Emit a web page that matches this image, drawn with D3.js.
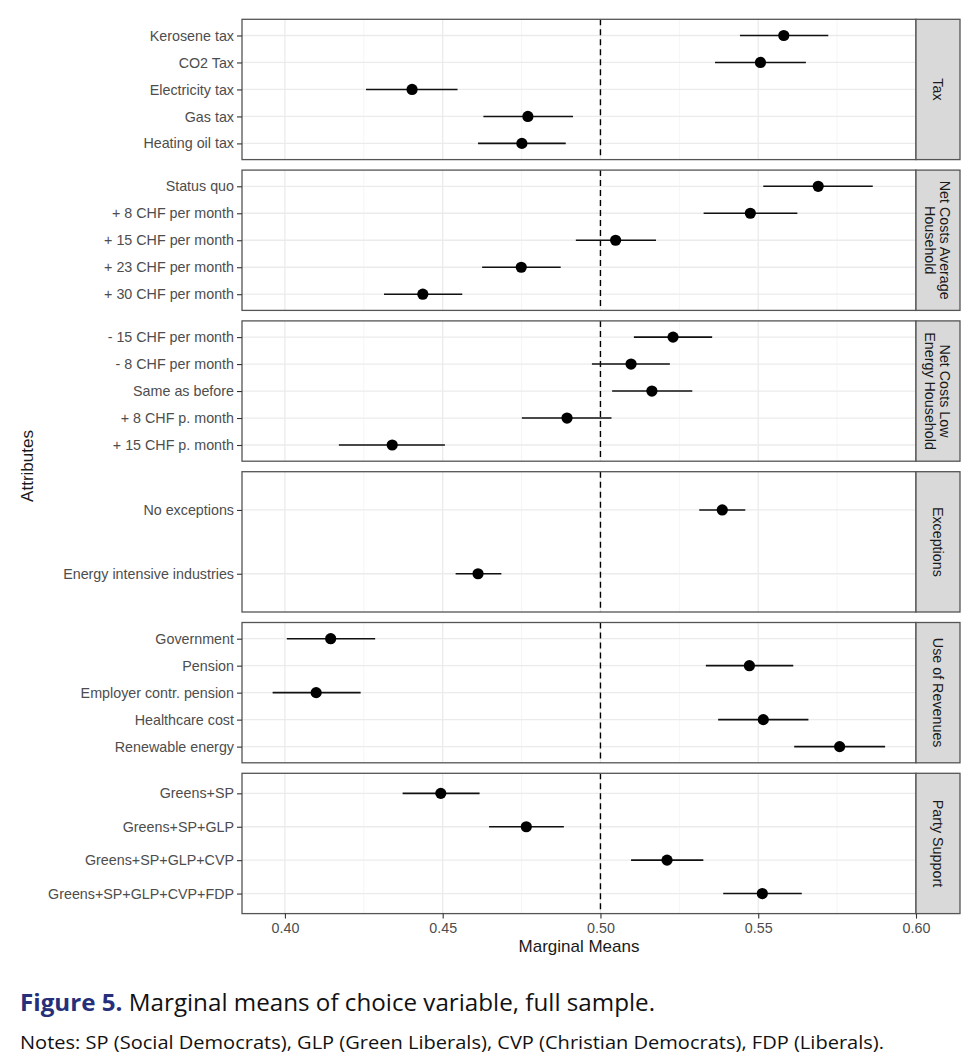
<!DOCTYPE html>
<html>
<head>
<meta charset="utf-8">
<script src="https://cdn.jsdelivr.net/npm/d3@7"></script>
<style>
  body { margin: 0; background: #fff; }
  svg { display: block; }
</style>
</head>
<body>
<div class="chart"></div>
<script>
// facets (attributes) and their levels
var facets = ["Tax", "Net Costs Average\nHousehold", "Net Costs Low\nEnergy Household", "Exceptions", "Use of Revenues", "Party Support"];

var levels = [
  "Kerosene tax", "CO2 Tax", "Electricity tax", "Gas tax", "Heating oil tax",
  "Status quo", "+ 8 CHF per month", "+ 15 CHF per month", "+ 23 CHF per month", "+ 30 CHF per month",
  "- 15 CHF per month", "- 8 CHF per month", "Same as before", "+ 8 CHF p. month", "+ 15 CHF p. month",
  "No exceptions", "Energy intensive industries",
  "Government", "Pension", "Employer contr. pension", "Healthcare cost", "Renewable energy",
  "Greens+SP", "Greens+SP+GLP", "Greens+SP+GLP+CVP", "Greens+SP+GLP+CVP+FDP"
];
var levelFacet = [0,0,0,0,0, 1,1,1,1,1, 2,2,2,2,2, 3,3, 4,4,4,4,4, 5,5,5,5];

var estimate = [0.5581, 0.5507, 0.4403, 0.4770, 0.4751,
                0.5690, 0.5475, 0.5048, 0.4749, 0.4437,
                0.5230, 0.5097, 0.5163, 0.4894, 0.4340,
                0.5386, 0.4612,
                0.4145, 0.5472, 0.4099, 0.5516, 0.5758,
                0.4494, 0.4765, 0.5211, 0.5513];
var lower = [0.5442, 0.5363, 0.4257, 0.4629, 0.4612,
             0.5516, 0.5327, 0.4922, 0.4625, 0.4314,
             0.5106, 0.4973, 0.5037, 0.4751, 0.4171,
             0.5313, 0.4541,
             0.4006, 0.5334, 0.3961, 0.5373, 0.5614,
             0.4373, 0.4647, 0.5097, 0.5389];
var upper = [0.5722, 0.5651, 0.4547, 0.4913, 0.4890,
             0.5863, 0.5624, 0.5176, 0.4874, 0.4562,
             0.5354, 0.5220, 0.5291, 0.5035, 0.4507,
             0.5459, 0.4686,
             0.4286, 0.5611, 0.4240, 0.5659, 0.5902,
             0.4617, 0.4884, 0.5326, 0.5638];

var xTicks = [0.40, 0.45, 0.50, 0.55, 0.60];
var xMinor = [0.425, 0.475, 0.525, 0.575];
var refLine = 0.5;

var width = 978, height = 1064;
var margin = {left: 242, right: 62, top: 19.3};
var panelH = 140.3, panelGap = 10.5, stripW = 44;
var font = "'Liberation Sans', Arial, sans-serif";

var svg = d3.select(".chart").append("svg")
  .attr("width", width)
  .attr("height", height);

// panel area ends where the strip starts
var x = d3.scaleLinear()
  .domain([0.3864, 0.600])
  .range([margin.left, width - margin.right]);

// panels
facets.forEach(function(f, fi) {
  var top = margin.top + fi * (panelH + panelGap);
  var idx = d3.range(levels.length).filter(function(i){ return levelFacet[i] === fi; });
  var y = d3.scalePoint()
    .domain(idx)
    .range([top, top + panelH])
    .padding(0.6);

  var g = svg.append("g");

  // minor grid
  g.selectAll("line.minor").data(xMinor).enter().append("line")
    .attr("x1", function(d){ return x(d); }).attr("x2", function(d){ return x(d); })
    .attr("y1", top).attr("y2", top + panelH)
    .attr("stroke", "#f2f2f2").attr("stroke-width", 0.8);
  // major grid
  g.selectAll("line.vmajor").data(xTicks).enter().append("line")
    .attr("x1", function(d){ return x(d); }).attr("x2", function(d){ return x(d); })
    .attr("y1", top).attr("y2", top + panelH)
    .attr("stroke", "#ebebeb").attr("stroke-width", 1.3);
  g.selectAll("line.hmajor").data(idx).enter().append("line")
    .attr("x1", x.range()[0]).attr("x2", x.range()[1])
    .attr("y1", function(d){ return y(d); }).attr("y2", function(d){ return y(d); })
    .attr("stroke", "#ebebeb").attr("stroke-width", 1.3);

  // reference line
  g.append("line")
    .attr("x1", x(refLine)).attr("x2", x(refLine))
    .attr("y1", top).attr("y2", top + panelH)
    .attr("stroke", "#000").attr("stroke-width", 1.4)
    .attr("stroke-dasharray", "6,4");

  // error bars
  g.selectAll("line.ci").data(idx).enter().append("line")
    .attr("x1", function(d){ return x(lower[d]); })
    .attr("x2", function(d){ return x(upper[d]); })
    .attr("y1", function(d){ return y(d); }).attr("y2", function(d){ return y(d); })
    .attr("stroke", "#111").attr("stroke-width", 1.6);

  // points
  g.selectAll("circle").data(idx).enter().append("circle")
    .attr("cx", function(d){ return x(estimate[d]); })
    .attr("cy", function(d){ return y(d); })
    .attr("r", 5.6)
    .attr("fill", "#000");

  // y axis
  var yAxis = d3.axisLeft(y).tickSize(5).tickPadding(3)
    .tickFormat(function(d){ return levels[d]; });
  var ya = svg.append("g")
    .attr("transform", "translate(" + margin.left + ",0)")
    .call(yAxis);
  ya.select(".domain").remove();
  ya.selectAll(".tick line").attr("stroke", "#333").attr("stroke-width", 1.1);
  ya.selectAll(".tick text")
    .attr("fill", "#4d4d4d")
    .style("font-family", font)
    .style("font-size", "14.3px");

  // panel border
  g.append("rect")
    .attr("x", x.range()[0]).attr("y", top)
    .attr("width", x.range()[1] - x.range()[0]).attr("height", panelH)
    .attr("fill", "none").attr("stroke", "#555").attr("stroke-width", 1.3);

  // strip
  g.append("rect")
    .attr("x", x.range()[1]).attr("y", top)
    .attr("width", stripW).attr("height", panelH)
    .attr("fill", "#d9d9d9").attr("stroke", "#555").attr("stroke-width", 1.3);

  var lines = f.split("\n");
  var cx = x.range()[1] + stripW / 2, cy = top + panelH / 2;
  var st = g.append("text")
    .attr("transform", "translate(" + cx + "," + cy + ") rotate(90)")
    .attr("text-anchor", "middle")
    .attr("fill", "#1a1a1a")
    .style("font-family", font)
    .style("font-size", "14.3px");
  lines.forEach(function(l, li) {
    var off = (li - (lines.length - 1) / 2) * 15;
    st.append("tspan")
      .attr("x", 0)
      .attr("y", off)
      .attr("dy", "0.35em")
      .text(l);
  });

  // x axis on last panel
  if (fi === facets.length - 1) {
    var xAxis = d3.axisBottom(x).tickValues(xTicks).tickSize(5).tickPadding(4)
      .tickFormat(d3.format(".2f"));
    var xa = svg.append("g")
      .attr("transform", "translate(0," + (top + panelH) + ")")
      .call(xAxis);
    xa.select(".domain").remove();
    xa.selectAll(".tick line").attr("stroke", "#333").attr("stroke-width", 1.1);
    xa.selectAll(".tick text")
      .attr("fill", "#4d4d4d")
      .style("font-family", font)
      .style("font-size", "14.3px");
  }
});

// axis titles
svg.append("text")
  .attr("x", (x.range()[0] + x.range()[1]) / 2)
  .attr("y", 952)
  .attr("text-anchor", "middle")
  .attr("fill", "#1a1a1a")
  .style("font-family", font)
  .style("font-size", "17px")
  .text("Marginal Means");

svg.append("text")
  .attr("transform", "translate(33,466) rotate(-90)")
  .attr("text-anchor", "middle")
  .attr("fill", "#1a1a1a")
  .style("font-family", font)
  .style("font-size", "17px")
  .text("Attributes");

// caption
var cap = svg.append("text")
  .attr("x", 20).attr("y", 1011)
  .attr("textLength", 635).attr("lengthAdjust", "spacingAndGlyphs")
  .style("font-family", "'Open Sans', sans-serif")
  .style("font-size", "23px");
cap.append("tspan").attr("fill", "#262f7a").style("font-weight", "bold").text("Figure 5.");
cap.append("tspan").attr("fill", "#111").text(" Marginal means of choice variable, full sample.");

svg.append("text")
  .attr("x", 20).attr("y", 1049)
  .attr("textLength", 864).attr("lengthAdjust", "spacingAndGlyphs")
  .attr("fill", "#111")
  .style("font-family", "'Open Sans', sans-serif")
  .style("font-size", "18px")
  .text("Notes: SP (Social Democrats), GLP (Green Liberals), CVP (Christian Democrats), FDP (Liberals).");
</script>
</body>
</html>
